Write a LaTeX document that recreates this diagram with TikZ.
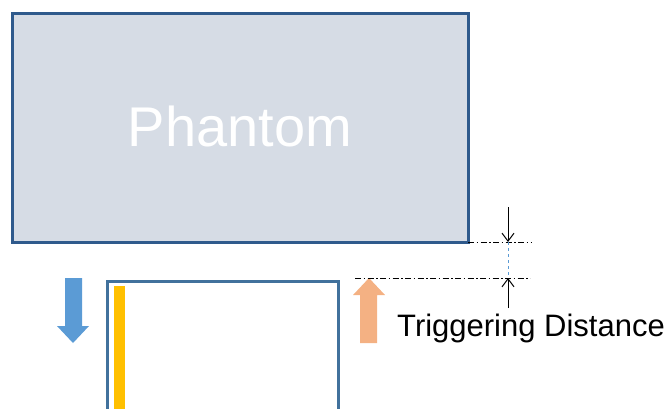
\documentclass[tikz,border=0pt]{standalone}
\usepackage{fontspec}
\setmainfont{Liberation Sans}
\usetikzlibrary{arrows.meta}
\definecolor{boxblue}{HTML}{41719C}
\definecolor{phantomline}{HTML}{2F5A8C}
\definecolor{phantomfill}{HTML}{D6DCE5}
\definecolor{moveblue}{HTML}{5B9BD5}
\definecolor{moveorange}{HTML}{F4B183}
\definecolor{stripyellow}{HTML}{FFC000}
\tikzset{
  dashdot/.style={black,line width=0.8pt,dash pattern=on 6pt off 2.5pt on 1.5pt off 2.5pt},
  dimarrow/.style={black,line width=1pt,-{Straight Barb[length=8pt,width=12pt]}}
}
\begin{document}
\begin{tikzpicture}[x=1pt,y=-1pt]
   \useasboundingbox (0,0) rectangle (668,408);

   % phantom
   \node (phantom)[draw=phantomline,fill=phantomfill,line width=2.8pt,
     minimum width=456pt,minimum height=229pt,inner sep=0pt,
     anchor=north west] at (11,12) {};
   \node (label)[white,font=\fontsize{56}{60}\selectfont] at (240,126) {Phantom};

   % detector box, open at the bottom
   \draw[color=boxblue,line width=3pt] (107,410) -- (107,281) -- (338,281) -- (338,410);
   \fill[color=stripyellow] (114,286) rectangle (125,410);

   % movement arrows
   \fill[color=moveblue] (65,278) -- (82,278) -- (82,326) -- (89,326) -- (73,343)
     -- (57,326) -- (65,326) -- cycle;
   \fill[color=moveorange] (360,343) -- (377,343) -- (377,295) -- (385,295) -- (369,278)
     -- (353,295) -- (360,295) -- cycle;

   % triggering distance
   \coordinate (top) at (508,242);
   \coordinate (bot) at (508,278);
   \draw[dashdot] (468,242) -- (532,242);
   \draw[dashdot] (355,278) -- (530,278);
   \draw[color=moveblue,line width=0.8pt,dashed] (top) -- (bot);
   \draw[dimarrow] (508,207) -- (top);
   \draw[dimarrow] (508,308) -- (bot);
   \node (dist)[anchor=base west,inner sep=0pt,font=\fontsize{31}{35}\selectfont]
     at (397,336) {Triggering Distance};
\end{tikzpicture}
\end{document}
